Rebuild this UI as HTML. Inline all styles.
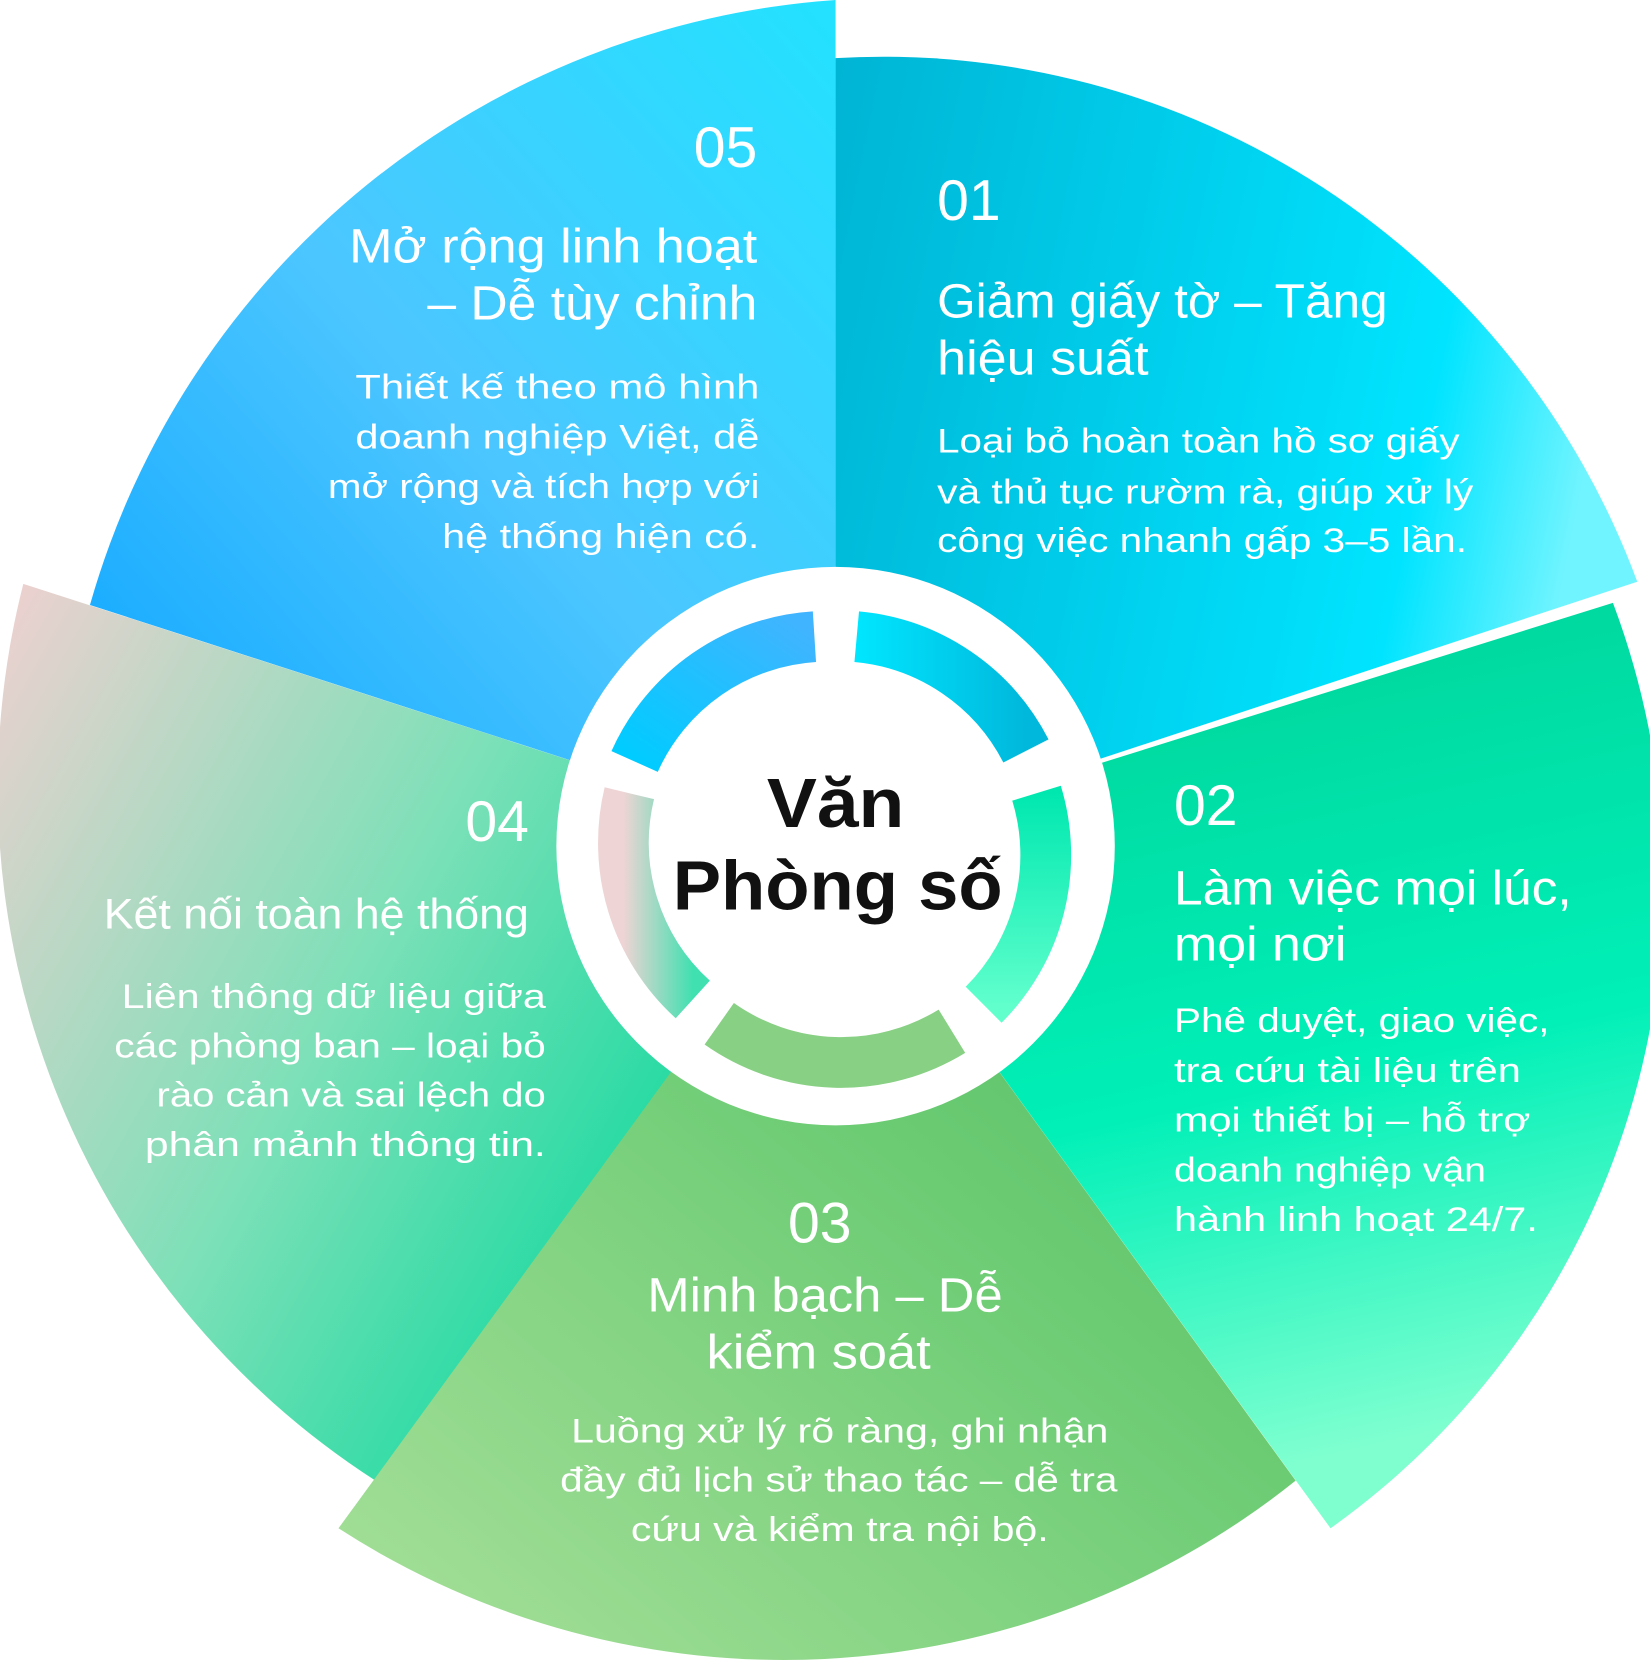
<!DOCTYPE html>
<html><head><meta charset="utf-8"><style>html,body{margin:0;padding:0;background:#fff}svg{display:block}</style></head><body>
<svg width="1650" height="1670" viewBox="0 0 1560 1579" xmlns="http://www.w3.org/2000/svg" font-family="'Liberation Sans', sans-serif">
<defs>
<linearGradient id="g5" x1="1" y1="0" x2="0" y2="1"><stop offset="0" stop-color="#22e2ff"/><stop offset="0.5" stop-color="#4cc6ff"/><stop offset="1" stop-color="#0aa4ff"/></linearGradient>
<linearGradient id="g1" x1="0" y1="0" x2="1" y2="0.2"><stop offset="0" stop-color="#00b4d4"/><stop offset="0.8" stop-color="#00e4ff"/><stop offset="1" stop-color="#70f4ff"/></linearGradient>
<linearGradient id="g2" x1="0" y1="0" x2="0.2" y2="1"><stop offset="0" stop-color="#00cf95"/><stop offset="0.6" stop-color="#00f0b8"/><stop offset="1" stop-color="#7fffd0"/></linearGradient>
<linearGradient id="g3" x1="1" y1="0" x2="0" y2="1"><stop offset="0" stop-color="#4fb860"/><stop offset="0.4" stop-color="#6ccc74"/><stop offset="1" stop-color="#a8e09a"/></linearGradient>
<linearGradient id="g4" x1="0" y1="0" x2="1" y2="0.6"><stop offset="0" stop-color="#f0d0d0"/><stop offset="0.5" stop-color="#7ee0b8"/><stop offset="1" stop-color="#00d89a"/></linearGradient>
<linearGradient id="r1" x1="0" y1="0" x2="1" y2="0"><stop offset="0" stop-color="#00e6ff"/><stop offset="1" stop-color="#00b8dc"/></linearGradient>
<linearGradient id="r5" x1="1" y1="0" x2="0" y2="1"><stop offset="0" stop-color="#40b4ff"/><stop offset="1" stop-color="#00ccff"/></linearGradient>
<linearGradient id="r2" x1="0" y1="0" x2="0" y2="1"><stop offset="0" stop-color="#00e8b0"/><stop offset="1" stop-color="#60ffcc"/></linearGradient>
<linearGradient id="r4" x1="0" y1="0" x2="1" y2="0"><stop offset="0" stop-color="#eed4d4"/><stop offset="1" stop-color="#40e0b0"/></linearGradient>
</defs>
<path d="M790,800 L355,1400 A780,780 0 0 1 22,552 Z" fill="url(#g4)"/>
<path d="M790,800 L85,572 A790,790 0 0 1 790,0 Z" fill="url(#g5)"/>
<path d="M790,800 L1225,1400 A775,775 0 0 1 320,1445 Z" fill="url(#g3)"/>
<path d="M790,800 L1525,570 A750,750 0 0 1 1258,1445 Z" fill="url(#g2)"/>
<path d="M790,800 L790,55 A760,760 0 0 1 1548,550 Z" fill="url(#g1)"/>
<circle cx="790" cy="800" r="264" fill="#fff"/>
<g fill="none" stroke-width="48">
<path d="M600,720 A200,200 0 0 1 770,602" stroke="url(#r5)"/>
<path d="M810,602 A200,200 0 0 1 970,710" stroke="url(#r1)"/>
<path d="M980,750 A200,200 0 0 1 930,950" stroke="url(#r2)"/>
<path d="M900,975 A200,200 0 0 1 680,968" stroke="#88d084"/>
<path d="M655,945 A200,200 0 0 1 595,750" stroke="url(#r4)"/>
</g>
<circle cx="790" cy="800" r="172" fill="#fff"/>
<g fill="#111" font-weight="bold" font-size="66" text-anchor="middle">
<text x="790" y="782" textLength="130" lengthAdjust="spacingAndGlyphs">Văn</text><text x="792" y="860" textLength="312" lengthAdjust="spacingAndGlyphs">Phòng số</text>
</g>
<g fill="#fff">
<g text-anchor="end">
<text x="716" y="158" font-size="54">05</text>
<text x="716" y="248" font-size="46" textLength="386" lengthAdjust="spacingAndGlyphs">Mở rộng linh hoạt</text>
<text x="716" y="302" font-size="46" textLength="312" lengthAdjust="spacingAndGlyphs">– Dễ tùy chỉnh</text>
<text x="718" y="377" font-size="32" textLength="382" lengthAdjust="spacingAndGlyphs">Thiết kế theo mô hình</text>
<text x="718" y="424" font-size="32" textLength="382" lengthAdjust="spacingAndGlyphs">doanh nghiệp Việt, dễ</text>
<text x="718" y="471" font-size="32" textLength="408" lengthAdjust="spacingAndGlyphs">mở rộng và tích hợp với</text>
<text x="718" y="518" font-size="32" textLength="300" lengthAdjust="spacingAndGlyphs">hệ thống hiện có.</text>
<text x="500" y="795" font-size="54">04</text>
<text x="500" y="878" font-size="40" textLength="402" lengthAdjust="spacingAndGlyphs">Kết nối toàn hệ thống</text>
<text x="516" y="953" font-size="32" textLength="401" lengthAdjust="spacingAndGlyphs">Liên thông dữ liệu giữa</text>
<text x="516" y="1000" font-size="32" textLength="408" lengthAdjust="spacingAndGlyphs">các phòng ban – loại bỏ</text>
<text x="516" y="1046" font-size="32" textLength="368" lengthAdjust="spacingAndGlyphs">rào cản và sai lệch do</text>
<text x="516" y="1093" font-size="32" textLength="379" lengthAdjust="spacingAndGlyphs">phân mảnh thông tin.</text>
</g>
<text x="886" y="208" font-size="54">01</text>
<text x="886" y="300" font-size="46" textLength="426" lengthAdjust="spacingAndGlyphs">Giảm giấy tờ – Tăng</text>
<text x="886" y="354" font-size="46" textLength="200" lengthAdjust="spacingAndGlyphs">hiệu suất</text>
<text x="886" y="428" font-size="32" textLength="494" lengthAdjust="spacingAndGlyphs">Loại bỏ hoàn toàn hồ sơ giấy</text>
<text x="886" y="476" font-size="32" textLength="507" lengthAdjust="spacingAndGlyphs">và thủ tục rườm rà, giúp xử lý</text>
<text x="886" y="522" font-size="32" textLength="501" lengthAdjust="spacingAndGlyphs">công việc nhanh gấp 3–5 lần.</text>
<text x="1110" y="780" font-size="54">02</text>
<text x="1110" y="855" font-size="46" textLength="376" lengthAdjust="spacingAndGlyphs">Làm việc mọi lúc,</text>
<text x="1110" y="908" font-size="46" textLength="163" lengthAdjust="spacingAndGlyphs">mọi nơi</text>
<text x="1110" y="976" font-size="32" textLength="355" lengthAdjust="spacingAndGlyphs">Phê duyệt, giao việc,</text>
<text x="1110" y="1023" font-size="32" textLength="328" lengthAdjust="spacingAndGlyphs">tra cứu tài liệu trên</text>
<text x="1110" y="1070" font-size="32" textLength="337" lengthAdjust="spacingAndGlyphs">mọi thiết bị – hỗ trợ</text>
<text x="1110" y="1117" font-size="32" textLength="295" lengthAdjust="spacingAndGlyphs">doanh nghiệp vận</text>
<text x="1110" y="1164" font-size="32" textLength="344" lengthAdjust="spacingAndGlyphs">hành linh hoạt 24/7.</text>
<g text-anchor="middle">
<text x="775" y="1175" font-size="54">03</text>
<text x="780" y="1240" font-size="46" textLength="336" lengthAdjust="spacingAndGlyphs">Minh bạch – Dễ</text>
<text x="774" y="1294" font-size="46" textLength="212" lengthAdjust="spacingAndGlyphs">kiểm soát</text>
<text x="794" y="1364" font-size="32" textLength="508" lengthAdjust="spacingAndGlyphs">Luồng xử lý rõ ràng, ghi nhận</text>
<text x="793" y="1410" font-size="32" textLength="527" lengthAdjust="spacingAndGlyphs">đầy đủ lịch sử thao tác – dễ tra</text>
<text x="794" y="1457" font-size="32" textLength="395" lengthAdjust="spacingAndGlyphs">cứu và kiểm tra nội bộ.</text>
</g>
</g>
</svg>
</body></html>
